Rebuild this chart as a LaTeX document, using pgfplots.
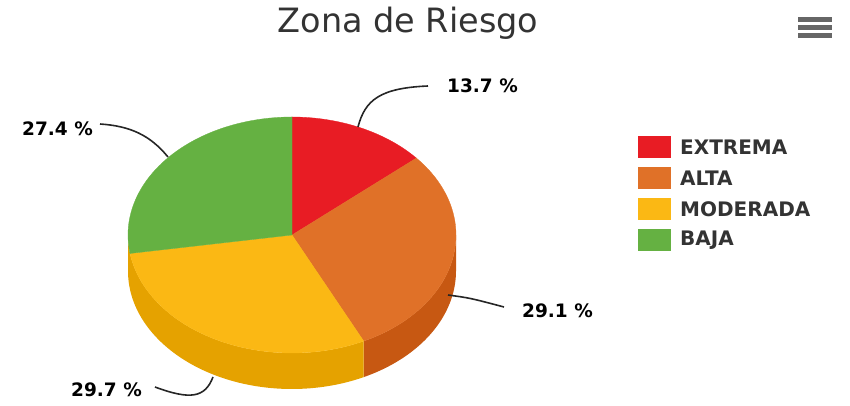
\documentclass[border=0pt]{standalone}
\usepackage{pgfplots}
\pgfplotsset{compat=1.18}
\usepackage{fontspec}
\setmainfont{DejaVu Sans}

\definecolor{extrema}{RGB}{232,28,36}
\definecolor{alta}{RGB}{224,113,40}
\definecolor{moderada}{RGB}{251,184,20}
\definecolor{baja}{RGB}{101,177,66}
\definecolor{altaside}{RGB}{199,88,18}
\definecolor{moderadaside}{RGB}{229,162,0}
\definecolor{txt}{RGB}{51,51,51}

% shares in percent
\def\vA{13.7}
\def\vB{29.1}
\def\vC{29.7}
\def\vD{27.4}
\pgfmathsetmacro\aA{90}
\pgfmathsetmacro\aB{\aA-3.6*\vA}
\pgfmathsetmacro\aC{\aB-3.6*\vB}
\pgfmathsetmacro\aD{\aC-3.6*\vC}
\pgfmathsetmacro\aE{-270}
% centre of top face (pixel 292,235), radii and depth
\def\rx{164pt}
\def\ry{118pt}
\def\dep{36pt}

\begin{document}
\begin{tikzpicture}
\begin{axis}[scale only axis,width=850pt,height=406pt,
  xmin=0,xmax=850,ymin=0,ymax=406,hide axis,clip=false]
\coordinate (bbA) at (axis cs:0,0);
\coordinate (bbB) at (axis cs:850,406);
% side walls (front half)
\fill[altaside] (axis cs:292,171) ++(0:{\rx} and {\ry}) arc[start angle=0,end angle=\aC,x radius=\rx,y radius=\ry]
  -- ++(0,-\dep) arc[start angle=\aC,end angle=0,x radius=\rx,y radius=\ry] -- cycle;
\fill[moderadaside] (axis cs:292,171) ++(\aC:{\rx} and {\ry}) arc[start angle=\aC,end angle=-180,x radius=\rx,y radius=\ry]
  -- ++(0,-\dep) arc[start angle=-180,end angle=\aC,x radius=\rx,y radius=\ry] -- cycle;
% top faces
\fill[extrema,draw=extrema,line width=0.3pt] (axis cs:292,171) -- ++(\aA:{\rx} and {\ry}) arc[start angle=\aA,end angle=\aB,x radius=\rx,y radius=\ry] -- cycle;
\fill[alta,draw=alta,line width=0.3pt] (axis cs:292,171) -- ++(\aB:{\rx} and {\ry}) arc[start angle=\aB,end angle=\aC,x radius=\rx,y radius=\ry] -- cycle;
\fill[moderada,draw=moderada,line width=0.3pt] (axis cs:292,171) -- ++(\aC:{\rx} and {\ry}) arc[start angle=\aC,end angle=\aD,x radius=\rx,y radius=\ry] -- cycle;
\fill[baja,draw=baja,line width=0.3pt] (axis cs:292,171) -- ++(\aD:{\rx} and {\ry}) arc[start angle=\aD,end angle=\aE,x radius=\rx,y radius=\ry] -- cycle;

% connectors and data labels
\draw[line width=1.6pt,black!85] (axis cs:358,279) .. controls (axis cs:365,306) and (axis cs:380,318) .. (axis cs:428,320);
\draw[line width=1.6pt,black!85] (axis cs:168,249) .. controls (axis cs:150,271) and (axis cs:130,280) .. (axis cs:100,282);
\draw[line width=1.6pt,black!85] (axis cs:448,111) .. controls (axis cs:470,108) .. (axis cs:504,99);
\draw[line width=1.6pt,black!85] (axis cs:213,29) .. controls (axis cs:205,8) and (axis cs:190,6) .. (axis cs:155,19);
\begin{scope}[every node/.style={font=\fontsize{18.5}{20}\selectfont\bfseries,inner sep=0pt,anchor=west}]
\node at (axis cs:447,320) {13.7 \%};
\node at (axis cs:522,95) {29.1 \%};
\node at (axis cs:71,16) {29.7 \%};
\node at (axis cs:22,277) {27.4 \%};
\end{scope}

% legend
\fill[extrema] (axis cs:638,270) rectangle (axis cs:671,248);
\fill[alta] (axis cs:638,239) rectangle (axis cs:671,217);
\fill[moderada] (axis cs:638,208) rectangle (axis cs:671,186);
\fill[baja] (axis cs:638,177) rectangle (axis cs:671,155);
\begin{scope}[every node/.style={font=\fontsize{20}{22}\selectfont\bfseries,text=txt,inner sep=0pt,anchor=west}]
\node at (axis cs:680,259) {EXTREMA};
\node at (axis cs:680,228) {ALTA};
\node at (axis cs:680,197) {MODERADA};
\node at (axis cs:680,166) {BAJA};
\end{scope}

% title and menu icon
\node[anchor=base,text=txt,font=\fontsize{33.5}{38}\selectfont,inner sep=0pt] at (axis cs:408,373) {Zona de Riesgo};
\fill[black!60] (axis cs:798,389) rectangle (axis cs:832,384);
\fill[black!60] (axis cs:798,381) rectangle (axis cs:832,376);
\fill[black!60] (axis cs:798,373) rectangle (axis cs:832,368);
\end{axis}
\pgfresetboundingbox
\path[use as bounding box] (bbA) rectangle (bbB);
\end{tikzpicture}
\end{document}
